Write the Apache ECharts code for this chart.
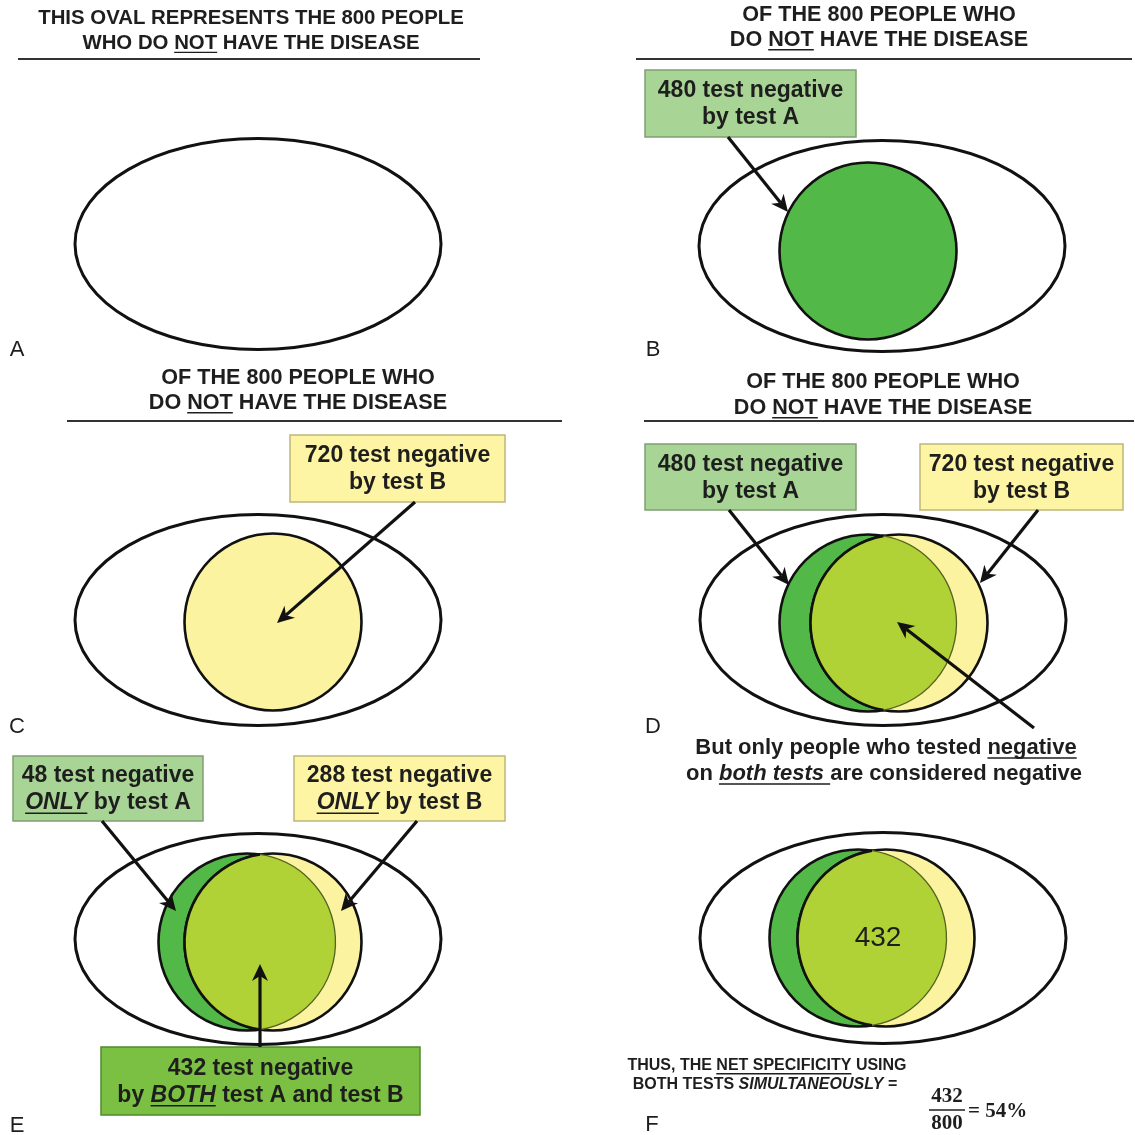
<!DOCTYPE html>
<html>
<head>
<meta charset="utf-8">
<title>Net specificity of two tests used simultaneously</title>
<script src="https://cdn.jsdelivr.net/npm/echarts@6/dist/echarts.min.js"></script>
<style>
html, body { margin: 0; padding: 0; background: #fff; }
#main { width: 1135px; height: 1135px; }
</style>
</head>
<body>
<div id="main"></div>
<script>
// counts shown in the figure
const groupNames = ['no disease', 'negative by test A', 'negative by test B', 'negative ONLY by A', 'negative ONLY by B', 'negative by BOTH'];
const groupCounts = [800, 480, 720, 48, 288, 432];
const panelLetters = ['A', 'B', 'C', 'D', 'E', 'F'];

// layout in picture units (axes run 0..1135 so 1 unit = 1px)
const ovalCenters = [[258, 244], [882, 246], [258, 620], [883, 620], [258, 939], [883, 938]];
const ovalSize = [183, 105.5];
const circleR = 88.5;
const circleACenters = [null, [868, 251], null, [868, 623], [247, 942], [858, 938]];
const circleBCenters = [null, null, [273, 622], [899, 623], [273, 942], [886, 938]];
// arrows: x1, y1, x2, y2 (tip at x2, y2)
const arrows = [
  [728, 137, 788, 212],
  [415, 502, 277, 623],
  [729, 510, 789, 585],
  [1038, 510, 980, 583],
  [1034, 728, 897, 622],
  [102, 821, 176, 911],
  [417, 821, 341, 911],
  [260, 1047, 260, 964]
];
// boxes: x, y, w, h, colour index
const boxes = [
  [645, 70, 211, 67, 0],
  [290, 435, 215, 67, 1],
  [645, 444, 211, 66, 0],
  [920, 444, 203, 66, 1],
  [13, 756, 190, 65, 0],
  [294, 756, 211, 65, 1],
  [101, 1047, 319, 68, 2]
];
const boxFill = ['#a8d496', '#fdf5a3', '#7cc043'];
const boxStroke = ['#7f9f72', '#bdb67c', '#4f8a2d'];
const letterPos = [[17, 350], [653, 350], [17, 727], [653, 727], [17, 1126], [652, 1125]];

const SANS = '"Liberation Sans", Arial, sans-serif';
const SERIF = '"Liberation Serif", "Times New Roman", serif';
const INK = '#1e1e1e';

const ctx = document.createElement('canvas').getContext('2d');
const fontStr = (size, bold, italic, family) =>
  (italic ? 'italic ' : '') + (bold ? 'bold ' : '') + size + 'px ' + family;

// one centred line made of segments; {t, i, u} = text, italic, underline
function textLine(cx, cy, segs, size, bold, family) {
  family = family || SANS;
  const parts = segs.map(s => (typeof s === 'string' ? { t: s } : s));
  parts.forEach(p => {
    p.font = fontStr(size, bold, p.i, family);
    ctx.font = p.font;
    p.w = ctx.measureText(p.t).width;
  });
  const total = parts.reduce((a, p) => a + p.w, 0);
  let x = cx - total / 2;
  const els = [];
  parts.forEach(p => {
    els.push({
      type: 'text', x: x, y: cy, z: 100,
      style: { text: p.t, font: p.font, fill: INK, textAlign: 'left', textVerticalAlign: 'middle' }
    });
    if (p.u) {
      const uy = cy + size * 0.36 + 2;
      els.push({
        type: 'line', z: 100,
        shape: { x1: x, y1: uy, x2: x + p.w, y2: uy },
        style: { stroke: INK, lineWidth: Math.max(1.3, size * 0.07) }
      });
    }
    x += p.w;
  });
  return els;
}

const elements = [];
// headings with rules
const NOT = { t: 'NOT', u: true };
const titles = [
  [251, 18, 43, 20.4, 18, 480, 59, ['THIS OVAL REPRESENTS THE ' + groupCounts[0] + ' PEOPLE'], ['WHO DO ', NOT, ' HAVE THE DISEASE']],
  [879, 15, 40, 21.6, 636, 1132, 59, ['OF THE ' + groupCounts[0] + ' PEOPLE WHO'], ['DO ', NOT, ' HAVE THE DISEASE']],
  [298, 378, 403, 21.6, 67, 562, 421, ['OF THE ' + groupCounts[0] + ' PEOPLE WHO'], ['DO ', NOT, ' HAVE THE DISEASE']],
  [883, 382, 408, 21.6, 644, 1134, 421, ['OF THE ' + groupCounts[0] + ' PEOPLE WHO'], ['DO ', NOT, ' HAVE THE DISEASE']]
];
titles.forEach(t => {
  elements.push(...textLine(t[0], t[1], t[7], t[3], true));
  elements.push(...textLine(t[0], t[2], t[8], t[3], true));
  elements.push({ type: 'line', z: 100, shape: { x1: t[4], y1: t[6], x2: t[5], y2: t[6] }, style: { stroke: '#333', lineWidth: 2 } });
});

// box captions
const ONLY = { t: 'ONLY', i: true, u: true };
const boxText = [
  [groupCounts[1] + ' test negative', ['by test A']],
  [groupCounts[2] + ' test negative', ['by test B']],
  [groupCounts[1] + ' test negative', ['by test A']],
  [groupCounts[2] + ' test negative', ['by test B']],
  [groupCounts[3] + ' test negative', [ONLY, ' by test A']],
  [groupCounts[4] + ' test negative', [ONLY, ' by test B']],
  [groupCounts[5] + ' test negative', ['by ', { t: 'BOTH', i: true, u: true }, ' test A and test B']]
];
boxes.forEach((b, i) => {
  const cx = b[0] + b[2] / 2, cy = b[1] + b[3] / 2;
  elements.push(...textLine(cx, cy - 12.5, [boxText[i][0]], 23, true));
  elements.push(...textLine(cx, cy + 14.5, boxText[i][1], 23, true));
});

// notes
elements.push(...textLine(886, 748, ['But only people who tested ', { t: 'negative', u: true }], 22, true));
elements.push(...textLine(884, 774, ['on ', { t: 'both tests ', i: true, u: true }, 'are considered negative'], 22, true));
elements.push(...textLine(767, 1066, ['THUS, THE ', { t: 'NET SPECIFICITY', u: true }, ' USING'], 16, true));
elements.push(...textLine(765, 1085, ['BOTH TESTS ', { t: 'SIMULTANEOUSLY', i: true }, ' ='], 16, true));

// count in the overlap of panel F
elements.push(...textLine(878, 938, [String(groupCounts[5])], 28, false));

// fraction
const pct = Math.round(groupCounts[5] / groupCounts[0] * 100) + '%';
elements.push(...textLine(947, 1097, [String(groupCounts[5])], 21, true, SERIF));
elements.push({ type: 'line', z: 100, shape: { x1: 929, y1: 1110, x2: 965, y2: 1110 }, style: { stroke: INK, lineWidth: 1.6 } });
elements.push(...textLine(947, 1124, [String(groupCounts[0])], 21, true, SERIF));
elements.push({
  type: 'text', x: 968, y: 1112, z: 100,
  style: { text: '= ' + pct, font: fontStr(21, true, false, SERIF), fill: INK, textAlign: 'left', textVerticalAlign: 'middle' }
});

// panel letters
panelLetters.forEach((l, i) => {
  elements.push({
    type: 'text', x: letterPos[i][0], y: letterPos[i][1], z: 100,
    style: { text: l, font: fontStr(22, false, false, SANS), fill: INK, textAlign: 'center', textVerticalAlign: 'middle' }
  });
});

const circleData = [];
circleACenters.forEach(c => { if (c) circleData.push([c[0], c[1], 0]); });
circleBCenters.forEach(c => { if (c) circleData.push([c[0], c[1], 1]); });
const lensData = [];
circleACenters.forEach((a, i) => {
  const b = circleBCenters[i];
  if (a && b) lensData.push([a[0], b[0], a[1]]);
});

const chart = echarts.init(document.getElementById('main'));
chart.setOption({
  backgroundColor: '#fff',
  animation: false,
  grid: { left: 0, right: 0, top: 0, bottom: 0 },
  xAxis: { type: 'value', min: 0, max: 1135, show: false },
  yAxis: { type: 'value', min: 0, max: 1135, inverse: true, show: false },
  graphic: { elements: elements },
  series: [
    {
      type: 'custom',
      name: groupNames[0],
      silent: true,
      data: ovalCenters,
      renderItem: (params, api) => {
        const c = api.coord([api.value(0), api.value(1)]);
        const s = api.size(ovalSize);
        return {
          type: 'ellipse',
          shape: { cx: c[0], cy: c[1], rx: s[0], ry: s[1] },
          style: { fill: '#fff', stroke: '#111', lineWidth: 3 }
        };
      }
    },
    {
      type: 'custom',
      name: 'test circles',
      silent: true,
      data: circleData,
      renderItem: (params, api) => {
        const c = api.coord([api.value(0), api.value(1)]);
        const r = api.size([circleR, 0])[0];
        return {
          type: 'circle',
          shape: { cx: c[0], cy: c[1], r: r },
          style: { fill: api.value(2) === 0 ? '#52b848' : '#fbf3a0', stroke: '#111', lineWidth: 2.6 }
        };
      }
    },
    {
      type: 'custom',
      name: groupNames[5],
      silent: true,
      encode: { x: [0, 1], y: 2 },
      data: lensData,
      renderItem: (params, api) => {
        const a = api.coord([api.value(0), api.value(2)]);
        const b = api.coord([api.value(1), api.value(2)]);
        const r = api.size([circleR, 0])[0];
        const d = b[0] - a[0];
        const h = Math.sqrt(r * r - d * d / 4);
        const mx = (a[0] + b[0]) / 2, cy = a[1];
        const top = mx + ' ' + (cy - h), bot = mx + ' ' + (cy + h);
        return {
          type: 'group',
          children: [
            { type: 'path', shape: { pathData: 'M' + top + ' A' + r + ' ' + r + ' 0 0 0 ' + bot + ' A' + r + ' ' + r + ' 0 0 0 ' + top + ' Z' }, style: { fill: '#b1d236' } },
            { type: 'path', shape: { pathData: 'M' + bot + ' A' + r + ' ' + r + ' 0 0 0 ' + top }, style: { fill: 'none', stroke: '#556220', lineWidth: 1.3 } },
            { type: 'path', shape: { pathData: 'M' + top + ' A' + r + ' ' + r + ' 0 0 0 ' + bot }, style: { fill: 'none', stroke: '#111', lineWidth: 2.6 } }
          ]
        };
      }
    },
    {
      type: 'custom',
      name: 'boxes',
      silent: true,
      data: boxes,
      renderItem: (params, api) => {
        const p = api.coord([api.value(0), api.value(1)]);
        const s = api.size([api.value(2), api.value(3)]);
        const k = api.value(4);
        return {
          type: 'rect',
          shape: { x: p[0], y: p[1], width: s[0], height: s[1] },
          style: { fill: boxFill[k], stroke: boxStroke[k], lineWidth: 1.5 }
        };
      }
    },
    {
      type: 'custom',
      name: 'arrows',
      silent: true,
      encode: { x: [0, 2], y: [1, 3] },
      data: arrows,
      renderItem: (params, api) => {
        const p = api.coord([api.value(0), api.value(1)]);
        const q = api.coord([api.value(2), api.value(3)]);
        const dx = q[0] - p[0], dy = q[1] - p[1];
        const len = Math.sqrt(dx * dx + dy * dy);
        const ux = dx / len, uy = dy / len;
        const hl = 17, hw = 8;
        const bx = q[0] - ux * hl, by = q[1] - uy * hl;
        const nx = q[0] - ux * hl * 0.7, ny = q[1] - uy * hl * 0.7;
        return {
          type: 'group',
          children: [
            { type: 'line', shape: { x1: p[0], y1: p[1], x2: nx, y2: ny }, style: { stroke: '#111', lineWidth: 3.2 } },
            {
              type: 'polygon',
              shape: { points: [[q[0], q[1]], [bx - uy * hw, by + ux * hw], [nx, ny], [bx + uy * hw, by - ux * hw]] },
              style: { fill: '#111' }
            }
          ]
        };
      }
    }
  ]
});
</script>
</body>
</html>
